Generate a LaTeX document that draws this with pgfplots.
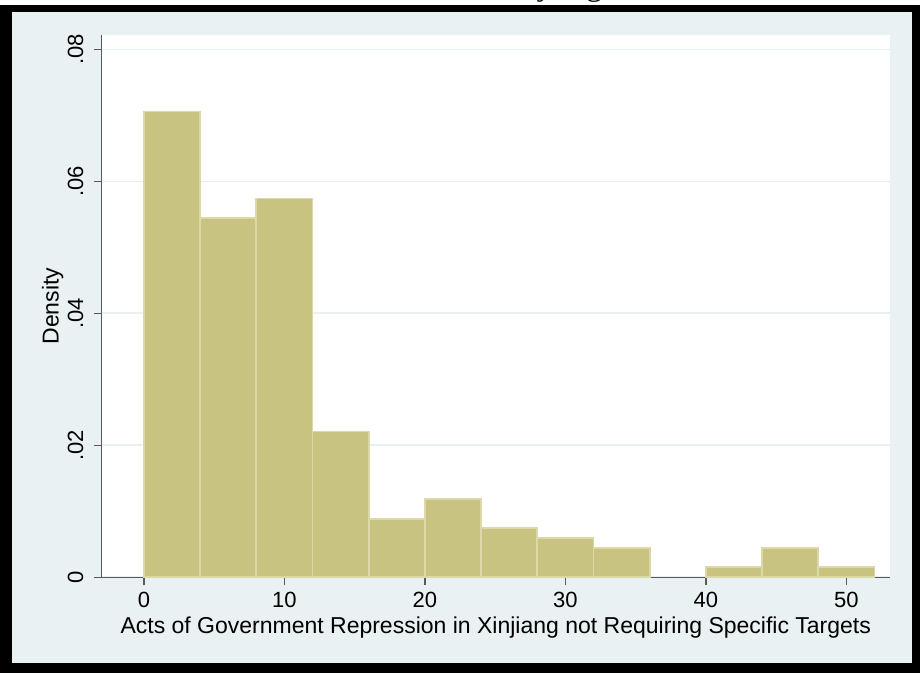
\documentclass[border=0pt]{standalone}
\usepackage{fontspec}
\setmainfont{Liberation Sans}
\newfontfamily\titlefont{Liberation Serif}
\usepackage{pgfplots}
\pgfplotsset{compat=1.18}
\definecolor{bgcol}{RGB}{233,241,243}
\definecolor{gridcol}{RGB}{232,240,242}
\definecolor{barfill}{RGB}{201,195,130}
\definecolor{baredge}{RGB}{221,216,168}
\definecolor{axcol}{RGB}{90,90,90}
\begin{document}
\begin{tikzpicture}
% whole picture: 920 x 673 px at 0.5pt per px
\fill[white] (0pt,0pt) rectangle (460pt,336.5pt);
\begin{scope}
\clip (0pt,0pt) rectangle (460pt,336.5pt);
\node[anchor=base west, inner sep=0pt, font=\titlefont\fontsize{16}{18}\selectfont] at (245pt,338.5pt) {Xinjiang};
\end{scope}
\fill[black] (0pt,0pt) rectangle (460pt,334pt);
\fill[bgcol] (6pt,5pt) rectangle (456pt,330.5pt);
\begin{axis}[
  at={(50.75pt,47.9pt)}, anchor=south west,
  scale only axis, width=394.25pt, height=271.1pt,
  xmin=-3.02, xmax=53.1, ymin=0, ymax=0.0822,
  axis background/.style={fill=white},
  axis lines*=left,
  axis line style={axcol, line width=0.6pt},
  tick align=outside, major tick length=4pt,
  tick style={axcol, line width=0.6pt},
  xtick={0,10,20,30,40,50},
  ytick={0,0.02,0.04,0.06,0.08},
  yticklabels={0,.02,.04,.06,.08},
  scaled y ticks=false,
  /pgf/number format/assume math mode=true,
  xticklabel style={font=\fontsize{11}{13}\selectfont},
  yticklabel style={font=\fontsize{11}{13}\selectfont, rotate=90, anchor=base},
  yticklabel shift=5.25pt,
  ymajorgrids, grid style={gridcol, line width=0.9pt},
  xlabel={Acts of Government Repression in Xinjiang not Requiring Specific Targets},
  ylabel={Density},
  xlabel style={font=\fontsize{11.5}{13}\selectfont, at={(axis description cs:0.5,-0.1035)}, anchor=base},
  ylabel style={font=\fontsize{11.5}{13}\selectfont, at={(axis description cs:-0.0545,0.5)}, anchor=base},
  clip=false,
]
% bins of width 4; the bin 36-40 is empty
\addplot[ybar interval, fill=barfill, draw=baredge, line width=0.9pt] coordinates {
  (0,0.0706) (4,0.0544) (8,0.0574) (12,0.0221) (16,0.0088) (20,0.0118)
  (24,0.0074) (28,0.0059) (32,0.0044) (36,0.0044)
};
\addplot[ybar interval, fill=barfill, draw=baredge, line width=0.9pt] coordinates {
  (40,0.0015) (44,0.0044) (48,0.0015) (52,0.0015)
};
\end{axis}
\pgfresetboundingbox
\useasboundingbox (0pt,0pt) rectangle (460pt,336.5pt);
\end{tikzpicture}
\end{document}
